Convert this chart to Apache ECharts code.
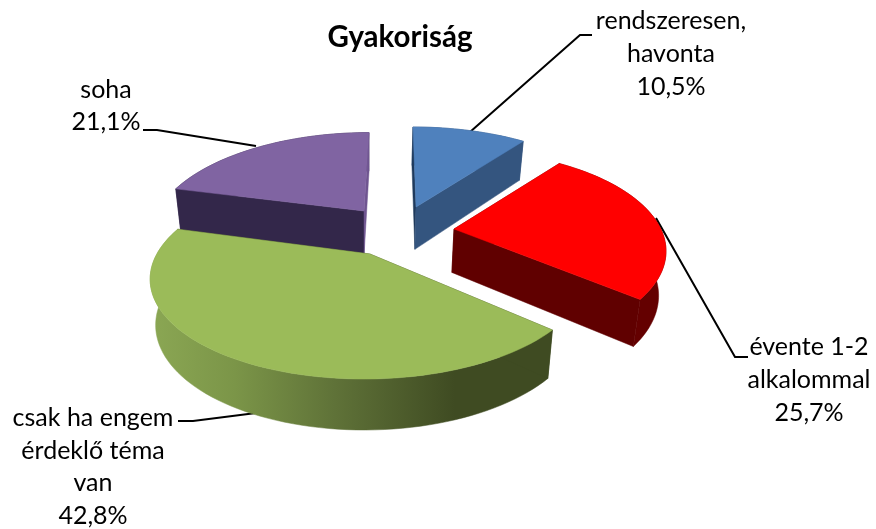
<!DOCTYPE html>
<html><head><meta charset="utf-8">
<style>html,body{margin:0;padding:0;background:#fff}#c{width:876px;height:529px}</style>
<script src="https://cdn.jsdelivr.net/npm/echarts@6/dist/echarts.min.js"></script>
</head><body><div id="c"></div>
<script>
var titleText = 'Gyakoriság';
var categories = ['rendszeresen,\nhavonta', 'évente 1-2\nalkalommal', 'csak ha engem\nérdeklő téma\nvan', 'soha'];
var shares = [10.5, 25.7, 42.8, 21.1];

// drawing style, per slice (same order as the data)
var topColors  = ['#4f81bd', '#ff0000', '#9bbb59', '#8064a2'];
var startCut   = ['#1f3a5c', '#600000', '#3f4b22', '#33274a'];
var endCut     = ['#34557f', '#600000', '#3f4b22', '#6f5590'];
var wallColors = ['#34557f', '#640000', null, '#33274a'];
var apexes = [[416,207],[454,229],[370,254],[364,211]];
var rimScale = [1, 0.985, 1.015, 0.98];
var rimTurn  = [0, -1, 1.5, 0];
var rimLean  = [-3, 0, 6, 5];
var labelAnchors = [[671,54],[809,380],[93,467],[106,106]];
var leaders = [
  [[592,35],[580,35],[470,132]],
  [[656,218],[735,357],[748,357]],
  [[256,413],[193,421],[178,421]],
  [[143,130],[157,130],[256,146]]
];
var drawOrder = [0,3,1,2];

var P = 0.2195, Q = 97.6, F = 210;
var total = shares.reduce(function(a,b){return a+b;},0);
function project(i, deg){
  var apex = apexes[i], t = (deg+rimTurn[i])*Math.PI/180, X = Math.sin(t), Z = Math.cos(t), d = 1+P*Z;
  var s = rimScale[i];
  return [apex[0] + s*F*X/d + rimLean[i]*Z, apex[1] - Q*Z/d*(s<1?s:1)];
}
function drop(pt){ return [370+(pt[0]-370)*0.975, pt[1]+32+0.05*pt[1]]; }
function sliceAngles(i){
  var a = 0;
  for(var k=0;k<i;k++) a += shares[k];
  return [a/total*360, (a+shares[i])/total*360];
}
function arc(i,a0,a1){
  var pts=[], n=Math.max(8,Math.ceil((a1-a0)/2));
  for(var k=0;k<=n;k++) pts.push(project(i,a0+(a1-a0)*k/n));
  return pts;
}
function poly(points, fill){
  return {type:'polygon', shape:{points:points},
    style:{fill:fill, stroke:fill, lineWidth:0.5}};
}
function renderSlice(params, api){
  var i = drawOrder[params.dataIndex];
  var ang = sliceAngles(i), apex = apexes[i];
  var rim = arc(i, ang[0], ang[1]);
  var first = rim[0], last = rim[rim.length-1];
  var outerFill = wallColors[i] || new echarts.graphic.LinearGradient(155,0,555,0,[
    {offset:0,color:'#8aa653'},{offset:0.2,color:'#7b9548'},{offset:0.45,color:'#5f7238'},
    {offset:0.75,color:'#3f4b22'},{offset:1,color:'#3f4b22'}],true);
  var wall = rim.concat(rim.slice().reverse().map(drop));
  var children = [
    poly(wall, outerFill),
    poly([apex,first,drop(first),drop(apex)], startCut[i]),
    poly([apex,last,drop(last),drop(apex)], endCut[i]),
    poly([apex].concat(rim), topColors[i])
  ];
  return {type:'group', children:children};
}
function renderLabel(params, api){
  var i = params.dataIndex, a = labelAnchors[i];
  return {type:'group', children:[
    {type:'polyline', shape:{points:leaders[i]}, style:{stroke:'#000',lineWidth:2,fill:null}},
    {type:'text', style:{
      text:categories[i]+'\n'+shares[i].toFixed(1).replace('.',',')+'%',
      x:a[0], y:a[1], align:'center', verticalAlign:'middle',
      fontFamily:'Lato', fontSize:25, lineHeight:32.7, fill:'#000'}}
  ]};
}
var chart = echarts.init(document.getElementById('c'), null, {renderer:'canvas'});
chart.setOption({
  animation:false,
  backgroundColor:'#ffffff',
  title:{text:titleText, left:395, top:17, textAlign:'center',
    textStyle:{fontFamily:'Lato',fontWeight:'bold',fontSize:29.5,color:'#000'}},
  series:[
    {type:'custom', coordinateSystem:'none', renderItem:renderSlice, z:2, silent:true,
     data:drawOrder.map(function(k){return [shares[k]];})},
    {type:'custom', coordinateSystem:'none', renderItem:renderLabel, z:1, silent:true,
     data:shares.map(function(v){return [v];})}
  ]
});
</script></body></html>
